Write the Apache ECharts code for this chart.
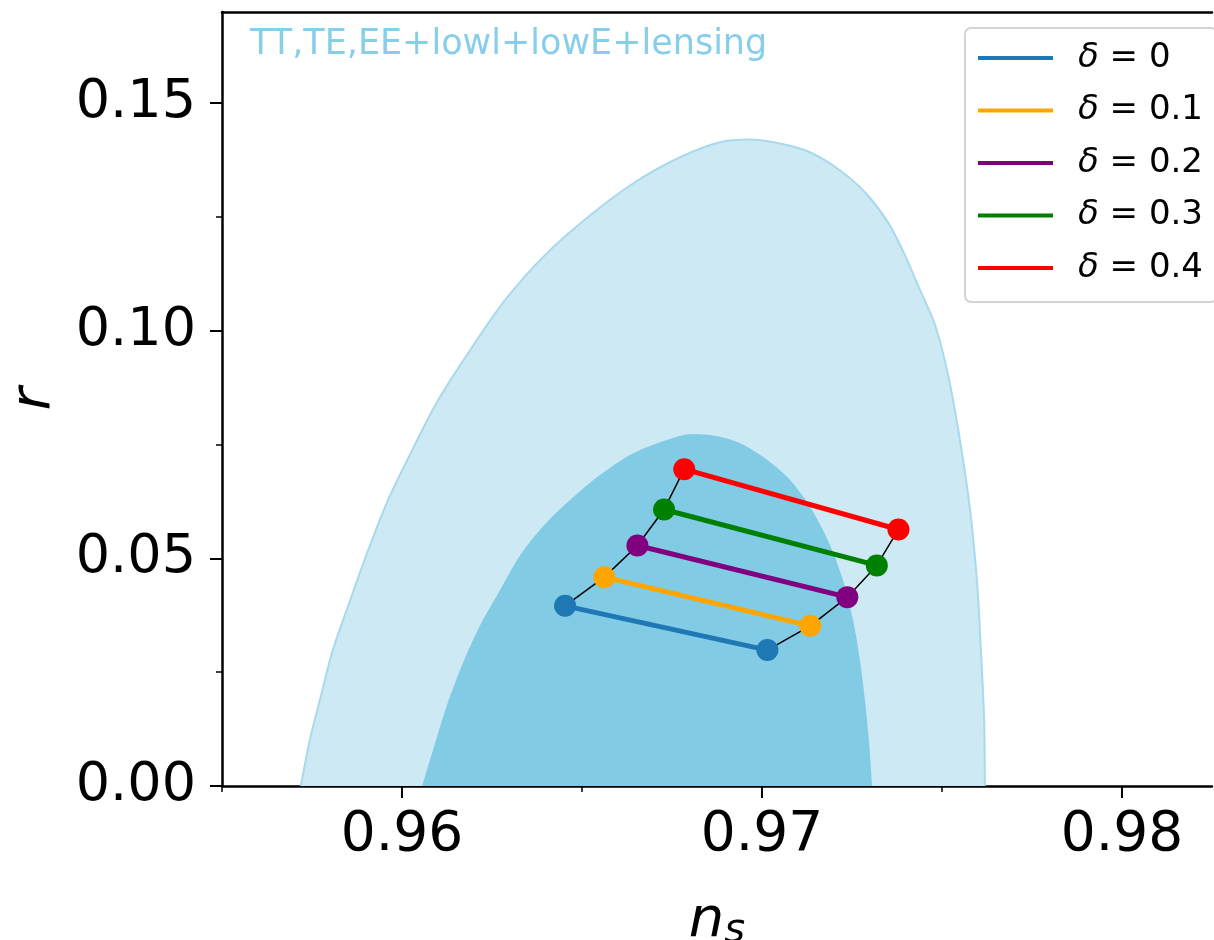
<!DOCTYPE html>
<html>
<head>
<meta charset="utf-8">
<script src="https://cdn.jsdelivr.net/npm/echarts@6/dist/echarts.min.js"></script>
<style>html,body{margin:0;padding:0;background:#fff;}#c{width:1214px;height:940px;}</style>
</head>
<body>
<div id="c"></div>
<script>
// ---- data ----
const outerNs = [0.95719,0.95744,0.95772,0.95808,0.95856,0.95906,0.95961,0.96028,0.96100,0.96189,0.96286,0.96397,0.96522,0.96647,0.96772,0.96883,0.96967,0.97050,0.97133,0.97217,0.97286,0.97350,0.97397,0.97433,0.97481,0.97517,0.97550,0.97578,0.97597,0.97608,0.97617,0.97619];
const outerR  = [0,0.0101,0.0189,0.0299,0.0408,0.0518,0.0628,0.0737,0.0847,0.0957,0.1067,0.1166,0.1253,0.1326,0.1381,0.1414,0.1420,0.1411,0.1392,0.1352,0.1304,0.1238,0.1166,0.1100,0.1012,0.0902,0.0759,0.0606,0.0452,0.0299,0.0145,0];
const innerNs = [0.96056,0.96086,0.96125,0.96167,0.96217,0.96272,0.96328,0.96397,0.96472,0.96550,0.96633,0.96717,0.96808,0.96878,0.96944,0.97011,0.97078,0.97139,0.97189,0.97225,0.97253,0.97272,0.97286,0.97297,0.97306];
const innerR  = [0,0.0079,0.0178,0.0266,0.0353,0.0430,0.0507,0.0575,0.0632,0.0683,0.0727,0.0755,0.0773,0.0768,0.0751,0.0718,0.0672,0.0606,0.0529,0.0452,0.0364,0.0277,0.0189,0.0101,0];
const deltaNames = ['δ = 0','δ = 0.1','δ = 0.2','δ = 0.3','δ = 0.4'];
const deltaColors = ['#1f77b4','#ffa500','#800080','#008000','#ff0000'];
const leftNs  = [0.96453,0.96562,0.96654,0.96728,0.96784];
const leftR   = [0.03957,0.04587,0.05283,0.06073,0.06958];
const rightNs = [0.97015,0.97134,0.97237,0.97319,0.97379];
const rightR  = [0.02985,0.03518,0.04148,0.04844,0.05634];
const xMajor = [0.96,0.97,0.98];
const xMinor = [0.955,0.965,0.975];
const yMajor = [0,0.05,0.10,0.15];
const yMinor = [0.025,0.075,0.125];
const annotation = 'TT,TE,EE+lowl+lowE+lensing';

const zip = (a,b) => a.map((v,i)=>[v,b[i]]);

const series = [
  {type:'line', data: zip(outerNs, outerR), showSymbol:false, smooth:0.3,
   lineStyle:{color:'#a9d9ec', width:2}, areaStyle:{color:'#cdeaf4', opacity:1}, z:1, silent:true},
  {type:'line', data: zip(innerNs, innerR), showSymbol:false, smooth:0.3,
   lineStyle:{width:0}, areaStyle:{color:'#81cbe5', opacity:1}, z:2, silent:true},
  {type:'line', data: zip(leftNs, leftR), showSymbol:false, lineStyle:{color:'#000', width:1.5}, z:3, silent:true},
  {type:'line', data: zip(rightNs, rightR), showSymbol:false, lineStyle:{color:'#000', width:1.5}, z:3, silent:true}
];
deltaNames.forEach((n,i)=>{
  series.push({type:'line', name:n, data:[[leftNs[i],leftR[i]],[rightNs[i],rightR[i]]],
    symbol:'circle', symbolSize:22, color:deltaColors[i],
    lineStyle:{color:deltaColors[i], width:5}, itemStyle:{color:deltaColors[i]}, z:5});
});

const chart = echarts.init(document.getElementById('c'), null, {renderer:'canvas'});
chart.setOption({
  animation:false,
  backgroundColor:'#fff',
  grid:{left:222, top:12, right:2, bottom:154, containLabel:false, outerBoundsMode:'none'},
  xAxis:[
    {type:'value', min:0.955, max:0.9825, position:'bottom',
     axisLine:{show:true, lineStyle:{color:'#000', width:2.5}},
     axisTick:{show:true, customValues:xMajor, length:12, lineStyle:{color:'#000', width:2}},
     axisLabel:{show:true, customValues:xMajor, formatter:v=>v.toFixed(2), fontSize:55, color:'#000', margin:22, fontFamily:'DejaVu Sans'},
     splitLine:{show:false},
     name:'{n|n}{s|s}', nameLocation:'middle', nameGap:104,
     nameTextStyle:{rich:{n:{fontSize:56, fontStyle:'italic', fontFamily:'DejaVu Sans', color:'#000'},
                          s:{fontSize:40, fontStyle:'italic', fontFamily:'DejaVu Sans', color:'#000', padding:[22,0,0,0]}}}},
    {type:'value', min:0.955, max:0.9825, position:'bottom',
     axisLine:{show:false}, axisTick:{show:true, customValues:xMinor, length:6, lineStyle:{color:'#000', width:1.5}},
     axisLabel:{show:false}, splitLine:{show:false}},
    {type:'value', min:0.955, max:0.9825, position:'top',
     axisLine:{show:true, lineStyle:{color:'#000', width:2.5}}, axisTick:{show:false}, axisLabel:{show:false}, splitLine:{show:false}}
  ],
  yAxis:[
    {type:'value', min:0, max:0.17, position:'left',
     axisLine:{show:true, lineStyle:{color:'#000', width:2.5}},
     axisTick:{show:true, customValues:yMajor, length:12, lineStyle:{color:'#000', width:2}},
     axisLabel:{show:true, customValues:yMajor, formatter:v=>v.toFixed(2), fontSize:54, color:'#000', margin:26, fontFamily:'DejaVu Sans'},
     splitLine:{show:false},
     name:'r', nameLocation:'middle', nameGap:160, nameRotate:90,
     nameTextStyle:{fontSize:56, fontStyle:'italic', fontFamily:'DejaVu Sans', color:'#000'}},
    {type:'value', min:0, max:0.17, position:'left',
     axisLine:{show:false}, axisTick:{show:true, customValues:yMinor, length:6, lineStyle:{color:'#000', width:1.5}},
     axisLabel:{show:false}, splitLine:{show:false}}
  ],
  legend:{
    data:deltaNames, orient:'vertical', left:965, top:28,
    icon:'rect', itemWidth:75, itemHeight:4, itemGap:18.5,
    backgroundColor:'#fff', borderColor:'#d4d4d4', borderWidth:2, borderRadius:6,
    padding:[13,14,17,13],
    formatter: name => '{i|δ}{t| = ' + name.split(' = ')[1] + '}',
    textStyle:{padding:[0,0,0,20], lineHeight:34,
      rich:{i:{fontSize:34, fontStyle:'italic', fontFamily:'DejaVu Sans', color:'#000', lineHeight:34},
            t:{fontSize:34, fontFamily:'DejaVu Sans', color:'#000', lineHeight:34}}}
  },
  graphic:[{type:'text', left:250, top:27, style:{text:annotation, fontSize:35, fontFamily:'DejaVu Sans', fill:'#87ceeb'}}],
  series: series
});
</script>
</body>
</html>
